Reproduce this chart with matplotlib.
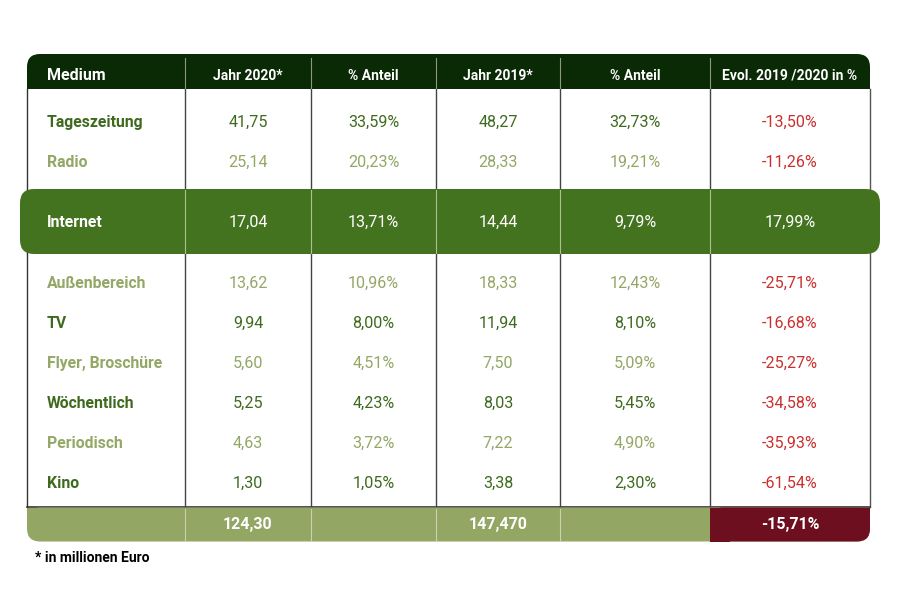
import matplotlib
matplotlib.use("Agg")
import matplotlib.pyplot as plt
from matplotlib.patches import FancyBboxPatch, Rectangle

plt.rcParams['font.family'] = ['Roboto', 'DejaVu Sans']

# ---- data ----
headers = ["Medium", "Jahr 2020*", "% Anteil", "Jahr 2019*", "% Anteil", "Evol. 2019 /2020 in %"]
media = ["Tageszeitung", "Radio", "Internet", "Außenbereich", "TV", "Flyer, Broschüre",
         "Wöchentlich", "Periodisch", "Kino"]
jahr_2020 = ["41,75", "25,14", "17,04", "13,62", "9,94", "5,60", "5,25", "4,63", "1,30"]
anteil_2020 = ["33,59%", "20,23%", "13,71%", "10,96%", "8,00%", "4,51%", "4,23%", "3,72%", "1,05%"]
jahr_2019 = ["48,27", "28,33", "14,44", "18,33", "11,94", "7,50", "8,03", "7,22", "3,38"]
anteil_2019 = ["32,73%", "19,21%", "9,79%", "12,43%", "8,10%", "5,09%", "5,45%", "4,90%", "2,30%"]
evol = ["-13,50%", "-11,26%", "17,99%", "-25,71%", "-16,68%", "-25,27%", "-34,58%", "-35,93%", "-61,54%"]
totals = ["", "124,30", "", "147,470", "", "-15,71%"]
footnote = "* in millionen Euro"

# ---- styling ----
row_style = ["dark", "light", "hi", "light", "dark", "light", "dark", "light", "dark"]
row_y = [121, 161, 221, 282, 322, 362, 402, 442, 482]
col_edges = [27, 185, 311, 436, 560, 710, 870]
DARK_HDR = "#0a2905"
DARK_TXT = "#3e6a1e"
LIGHT_TXT = "#93a766"
HI_BG = "#447320"
FOOT_BG = "#93a663"
RED_BG = "#6d0f1f"
RED_TXT = "#c9302e"

fig = plt.figure(figsize=(9, 6.01), dpi=100)
ax = fig.add_axes([0, 0, 1, 1])
ax.set_xlim(0, 900)
ax.set_ylim(601, 0)
ax.axis("off")

L, R = col_edges[0], col_edges[-1]
rad = 13

# header: rounded top
ax.add_patch(FancyBboxPatch((L, 54), R - L, 35, boxstyle=f"round,pad=0,rounding_size={rad}",
                            fc=DARK_HDR, ec="none", zorder=2))
ax.add_patch(Rectangle((L, 72), R - L, 17, fc=DARK_HDR, ec="none", zorder=2))

# body border & vertical lines
ax.plot([L, L], [89, 507], color="#333333", lw=1, zorder=1)
ax.plot([R, R], [89, 507], color="#555555", lw=1, zorder=1)
ax.plot([L, R], [507, 507], color="#333333", lw=1.2, zorder=1)
for x in col_edges[1:-1]:
    ax.plot([x, x], [89, 507], color="#444444", lw=1, zorder=1)
    ax.plot([x, x], [58, 88], color="#8a9a80", lw=0.8, zorder=3)

# footer
ax.add_patch(FancyBboxPatch((L, 507.5), R - L, 34, boxstyle=f"round,pad=0,rounding_size={rad}",
                            fc=FOOT_BG, ec="none", zorder=2))
ax.add_patch(Rectangle((L, 507.5), R - L, 16, fc=FOOT_BG, ec="none", zorder=2))
# red cell
ax.add_patch(FancyBboxPatch((col_edges[5], 507.5), R - col_edges[5], 34,
                            boxstyle=f"round,pad=0,rounding_size={rad}", fc=RED_BG, ec="none", zorder=3))
ax.add_patch(Rectangle((col_edges[5], 507.5), R - col_edges[5], 16, fc=RED_BG, ec="none", zorder=3))
ax.add_patch(Rectangle((col_edges[5], 507.5), 20, 34, fc=RED_BG, ec="none", zorder=3))
for x in col_edges[1:5]:
    ax.plot([x, x], [509, 540], color="#c9d3b0", lw=0.8, zorder=4)

# highlight band (Internet)
ax.add_patch(FancyBboxPatch((20, 189), 860, 65, boxstyle="round,pad=0,rounding_size=14",
                            fc=HI_BG, ec="none", zorder=2))
for x in col_edges[1:-1]:
    ax.plot([x, x], [190, 253], color="#a9bf94", lw=0.8, zorder=3)

# header text (baseline positioned)
centers = [(col_edges[i] + col_edges[i + 1]) / 2 for i in range(len(col_edges) - 1)]
ax.text(47, 80.5, headers[0], color="white", fontsize=11.5, fontweight="bold",
        ha="left", va="baseline", zorder=5)
for i in range(1, 6):
    ax.text(centers[i], 79.5, headers[i], color="white", fontsize=10,
            fontweight="bold", ha="center", va="baseline", zorder=5)

# rows
cols = [jahr_2020, anteil_2020, jahr_2019, anteil_2019, evol]
for r, name in enumerate(media):
    st = row_style[r]
    if st == "hi":
        c_name = c_val = c_ev = "white"
    elif st == "dark":
        c_name = c_val = DARK_TXT
        c_ev = RED_TXT
    else:
        c_name = c_val = LIGHT_TXT
        c_ev = RED_TXT
    yb = row_y[r] + 6
    ax.text(47, yb, name, color=c_name, fontsize=11.3, fontweight="bold",
            ha="left", va="baseline", zorder=5)
    for j, col in enumerate(cols):
        ax.text(centers[j + 1], yb, col[r], color=(c_ev if j == 4 else c_val), fontsize=11.6,
                ha="center", va="baseline", zorder=5)

# totals
for j, t in enumerate(totals):
    if t:
        ax.text(centers[j], 529.5, t, color="white", fontsize=11.5, fontweight="bold",
                ha="center", va="baseline", zorder=5)

ax.text(35, 562.5, footnote, color="black", fontsize=10, fontweight="bold",
        ha="left", va="baseline", zorder=5)

fig.savefig("out.png", dpi=100, facecolor="white")
